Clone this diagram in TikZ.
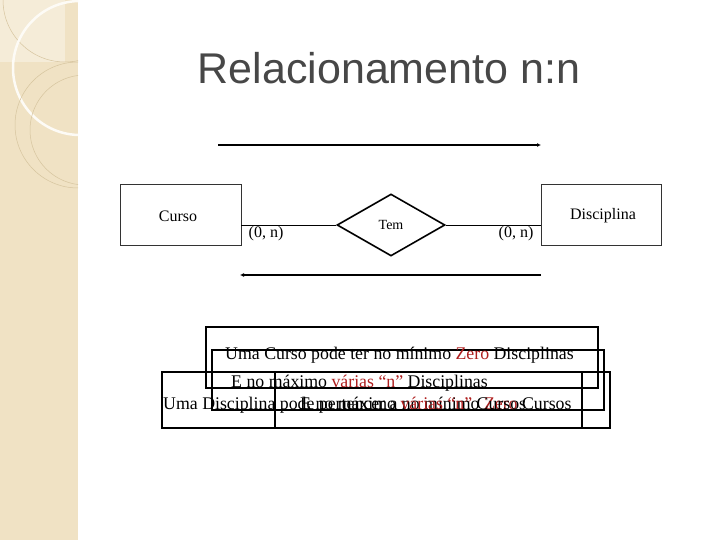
\documentclass[tikz,border=0pt]{standalone}
\usepackage{fontspec}
\setmainfont{Liberation Serif}
\newfontfamily\titlefont{Liberation Sans}
\usetikzlibrary{shapes.geometric,arrows.meta}
\definecolor{beige}{RGB}{240,226,196}
\definecolor{circ}{RGB}{214,196,158}
\definecolor{redt}{RGB}{175,30,30}
\tikzset{
 ent/.style={draw=black!80,line width=0.6pt},
 bx/.style={draw=black,line width=2.2pt},
 card/.style={font=\fontsize{16}{18}\selectfont},
 ln/.style={font=\fontsize{17.8}{20}\selectfont,anchor=base west,inner sep=0},
 arr/.style={line width=1.2pt,-{Latex[length=4pt,width=4pt]}}
}
\begin{document}
\begin{tikzpicture}[x=1pt,y=-1pt]
\useasboundingbox (0,0) rectangle (720,540);
\fill[white] (0,0) rectangle (720,540);
% left band
\fill[beige] (0,0) rectangle (78,540);
\begin{scope}
\clip (0,0) rectangle (78,540);
\fill[white,opacity=0.35] (0,0) rectangle (65,62);
\draw[circ,line width=0.5pt] (65,0) circle (62);
\draw[white!85!beige,line width=2.5pt] (80,68) circle (67);
\draw[circ,line width=0.5pt] (78,125) circle (63);
\draw[circ,line width=0.5pt] (85,130) circle (55);
\end{scope}
\node (title) at (389,68) {\titlefont\fontsize{43}{48}\selectfont\color{black!72}Relacionamento n:n};
% ER
\node[ent,minimum width=121pt,minimum height=61pt] (curso) at (180.5,215) {};
\node[font=\fontsize{16}{18}\selectfont] (cursot) at (178,216) {Curso};
\node[ent,minimum width=120pt,minimum height=61pt] (disc) at (601,215) {};
\node[font=\fontsize{16}{18}\selectfont] (disct) at (603,216) {Disciplina};
\node[draw,line width=1.6pt,diamond,minimum width=108pt,minimum height=62pt,inner sep=0,font=\fontsize{14}{16}\selectfont] (tem) at (391,225) {Tem};
\draw[line width=0.6pt] (curso.east |- tem.west) -- (tem.west);
\draw[line width=0.6pt] (tem.east) -- (disc.west |- tem.east);
\node[card] (c1) at (266,234) {(0, n)};
\node[card] (c2) at (516,234) {(0, n)};
\coordinate (a1) at (218,145); \coordinate (a2) at (541,145);
\coordinate (b1) at (541,275); \coordinate (b2) at (240,275);
\draw[arr] (a1) -- (a2);
\draw[arr] (b1) -- (b2);
% text boxes
\draw[bx] (206,327) rectangle (598,388);
\draw[bx] (212,350) rectangle (604,410);
\draw[bx] (162,372) rectangle (610,428);
\draw[bx] (275,372) rectangle (582,428);
\node[ln] (t1) at (225,359) {Uma Curso pode ter no mínimo \textcolor{redt}{Zero} Disciplinas};
\node[ln] (t2) at (231,387) {E no máximo \textcolor{redt}{várias “n”} Disciplinas};
\node[ln] (t3) at (163,409) {Uma Disciplina pode pertencer a no mínimo \textcolor{redt}{Zero} Cursos};
\node[ln] (t4) at (300,409) {E no máximo \textcolor{redt}{várias “n”} Cursos};
\end{tikzpicture}
\end{document}
